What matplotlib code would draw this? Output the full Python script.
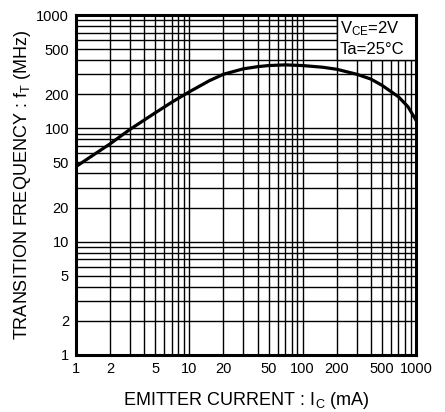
import matplotlib.pyplot as plt
from matplotlib.patches import Rectangle
from matplotlib.ticker import LogLocator, NullFormatter
import numpy as np

plt.rcParams['font.family'] = ['Liberation Sans', 'DejaVu Sans']
plt.rcParams['mathtext.fontset'] = 'custom'
plt.rcParams['mathtext.rm'] = 'Liberation Sans'
plt.rcParams['mathtext.it'] = 'Liberation Sans:italic'

# emitter current (mA) vs transition frequency (MHz)
IC = [1, 2, 3, 5, 7, 10, 15, 20, 30, 40, 50, 70, 100, 150, 200, 300, 400, 500, 700, 850, 1000]
FT = [46, 73, 98, 137, 170, 210, 263, 300, 335, 350, 358, 363, 358, 346, 332, 300, 272, 240, 190, 155, 118]

TICKS = [1, 2, 5, 10, 20, 50, 100, 200, 500, 1000]
TICK_LABELS = ['1', '2', '5', '10', '20', '50', '100', '200', '500', '1000']

fig = plt.figure(figsize=(4.45, 4.12), dpi=100)
ax = fig.add_axes([76 / 445, 57 / 412, 340 / 445, 340 / 412])

ax.set_xscale('log')
ax.set_yscale('log')
ax.set_xlim(1, 1000)
ax.set_ylim(1, 1000)

ax.set_xticks(TICKS)
ax.set_xticklabels(TICK_LABELS)
ax.set_yticks(TICKS)
ax.set_yticklabels(TICK_LABELS)
for axis in (ax.xaxis, ax.yaxis):
    axis.set_minor_locator(LogLocator(base=10, subs=np.arange(2, 10)))
    axis.set_minor_formatter(NullFormatter())
ax.tick_params(which='both', length=0)
ax.tick_params(labelsize=10.5, pad=5)

ax.grid(True, which='both', color='black', linewidth=1.0)
ax.set_axisbelow(True)

ax.plot(IC, FT, color='black', linewidth=2.3, zorder=3)

# condition box in the top right corner
ax.add_patch(Rectangle((200, 400), 800, 600, facecolor='white', edgecolor='black',
                       linewidth=1.0, zorder=4))
ax.text(214, 755, r'V$_{\mathrm{CE}}$=2V', fontsize=12, va='center', ha='left', zorder=5)
ax.text(214, 496, 'Ta=25°C', fontsize=12, va='center', ha='left', zorder=5)

for s in ax.spines.values():
    s.set_linewidth(2.2)
    s.set_zorder(6)

ax.set_xlabel(r'EMITTER CURRENT : I$_{\mathrm{C}}$ (mA)', fontsize=13, labelpad=10)
ax.set_ylabel(r'TRANSITION FREQUENCY : f$_{\mathrm{T}}$ (MHz)', fontsize=13, labelpad=2)

fig.savefig('out.png', dpi=100)
